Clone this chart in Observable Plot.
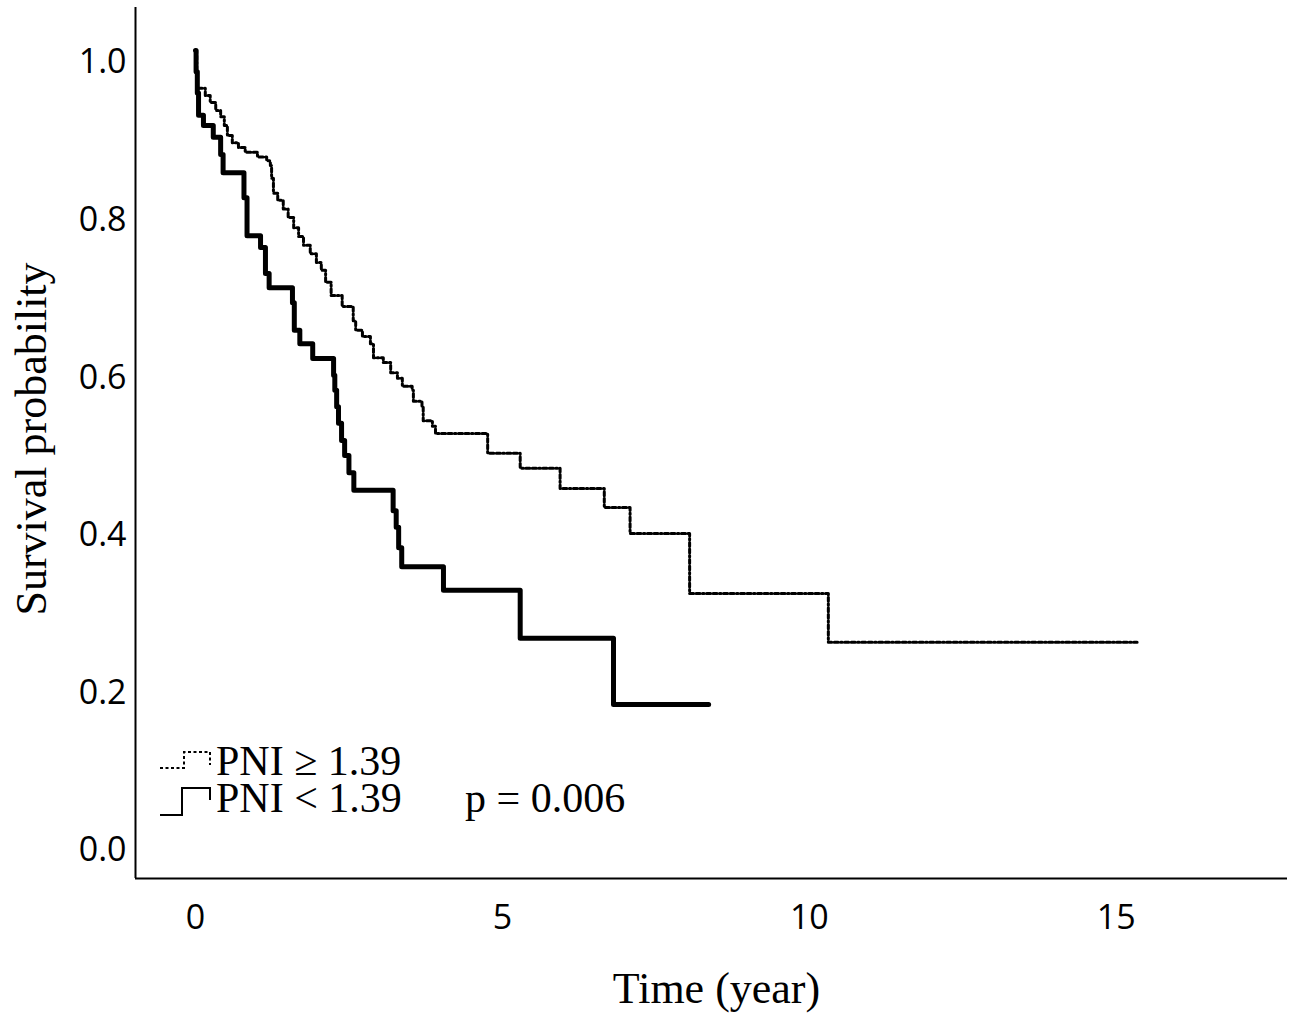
<!DOCTYPE html>
<html><head><meta charset="utf-8">
<script src="https://cdn.jsdelivr.net/npm/d3@7"></script>
<script src="https://cdn.jsdelivr.net/npm/@observablehq/plot@0.6"></script>
<style>
body{margin:0;background:#fff;}
#wrap{position:relative;width:1300px;height:1020px;}
#wrap svg.overlay{position:absolute;left:0;top:0;pointer-events:none;}
</style></head><body><div id="wrap"></div>
<script>
// tick values
const xTicks = [0, 5, 10, 15];
const yTicks = [0, 0.2, 0.4, 0.6, 0.8, 1.0];
const xDomain = [-0.977, 17.79];
const yDomain = [-0.0508, 1.0546];

// PNI < 1.39 (solid) : event times and survival after each step
const lowTime = [0.01,0.03,0.05,0.13,0.29,0.41,0.45,0.79,0.84,1.06,1.14,1.20,1.58,1.61,1.70,1.91,2.25,2.27,2.30,2.33,2.38,2.43,2.50,2.58,3.22,3.27,3.31,3.36,4.04,5.29,6.81];
const lowSurv = [0.973,0.946,0.918,0.905,0.890,0.868,0.845,0.813,0.765,0.750,0.717,0.699,0.680,0.645,0.628,0.609,0.588,0.569,0.548,0.527,0.505,0.486,0.464,0.442,0.416,0.395,0.369,0.345,0.315,0.254,0.170];
const lowEnd = 8.36;

// PNI >= 1.39 (dotted)
const highTime = [0.02,0.16,0.24,0.33,0.41,0.47,0.52,0.60,0.70,0.81,1.01,1.16,1.22,1.24,1.27,1.34,1.43,1.51,1.60,1.68,1.76,1.87,1.97,2.05,2.12,2.21,2.39,2.57,2.61,2.72,2.85,2.90,3.06,3.18,3.29,3.37,3.53,3.55,3.69,3.71,3.86,3.91,4.76,5.29,5.94,6.66,7.08,8.05,10.31];
const highSurv = [0.952,0.943,0.934,0.924,0.916,0.905,0.892,0.883,0.877,0.871,0.865,0.860,0.854,0.838,0.819,0.810,0.799,0.788,0.775,0.764,0.753,0.742,0.731,0.721,0.706,0.689,0.675,0.657,0.645,0.637,0.628,0.610,0.604,0.591,0.584,0.574,0.569,0.555,0.549,0.530,0.523,0.514,0.489,0.470,0.444,0.420,0.387,0.311,0.249];
const highEnd = 15.34;

const groups = ["PNI \u2265 1.39", "PNI < 1.39"];
const pText = "p = 0.006";

function rows(times, surv, end) {
  const r = [{t: 0, s: 1}];
  times.forEach((t, i) => r.push({t, s: surv[i]}));
  r.push({t: end, s: surv[surv.length - 1]});
  return r;
}
const lowRows = rows(lowTime, lowSurv, lowEnd);
const highRows = rows(highTime, highSurv, highEnd);

const serif = "'Liberation Serif','Times New Roman',serif";
const sans = "'Open Sans','Noto Sans',sans-serif";

const chart = Plot.plot({
  width: 1300, height: 1020,
  marginLeft: 135, marginRight: 13, marginTop: 7, marginBottom: 142,
  x: {domain: xDomain},
  y: {domain: yDomain},
  style: {fontFamily: sans, fontSize: "34px", color: "#000", background: "#fff", overflow: "visible"},
  marks: [
    Plot.axisX(xTicks, {tickSize: 0, tickPadding: 26, fontSize: 34, label: null, tickFormat: d => String(d)}),
    Plot.axisY(yTicks, {tickSize: 0, tickPadding: 9, dy: 12, fontSize: 34, label: null, tickFormat: d => d.toFixed(1)}),
    Plot.ruleY([yDomain[0]], {stroke: "#000", strokeWidth: 2}),
    Plot.ruleX([xDomain[0]], {stroke: "#000", strokeWidth: 2}),
    Plot.line(highRows, {x: "t", y: "s", curve: "step-after", stroke: "#000", strokeWidth: 3, strokeDasharray: "4 2.5 4 2.5 1.5 2.5"}),
    Plot.line(lowRows, {x: "t", y: "s", curve: "step-after", stroke: "#000", strokeWidth: 5}),
    Plot.text(["Time (year)"], {text: d => d, frameAnchor: "bottom", lineAnchor: "middle", textAnchor: "middle", dx: 5, dy: 110, fontFamily: serif, fontSize: 44, fill: "#000"}),
    Plot.text(["Survival probability"], {text: d => d, frameAnchor: "left", lineAnchor: "middle", textAnchor: "middle", rotate: -90, dx: -104, dy: -4, fontFamily: serif, fontSize: 44, fill: "#000"})
  ]
});
const wrap = document.getElementById("wrap");
wrap.appendChild(chart);

// legend overlay
const ns = "http://www.w3.org/2000/svg";
const ov = document.createElementNS(ns, "svg");
ov.setAttribute("class", "overlay");
ov.setAttribute("width", 1300); ov.setAttribute("height", 1020);
ov.innerHTML = `
  <path d="M160,768 H184 V752 H210 V765" fill="none" stroke="#000" stroke-width="2" stroke-dasharray="3 2.5"/>
  <path d="M160,815 H182 V788 H210 V800" fill="none" stroke="#000" stroke-width="2"/>
  <g font-family="${serif}" font-size="42" fill="#000">
    <text x="216" y="775">${groups[0]}</text>
    <text x="216" y="812">${groups[1].replace("<","&lt;")}</text>
    <text x="465" y="812">${pText}</text>
  </g>`;
wrap.appendChild(ov);
</script>
</body></html>
